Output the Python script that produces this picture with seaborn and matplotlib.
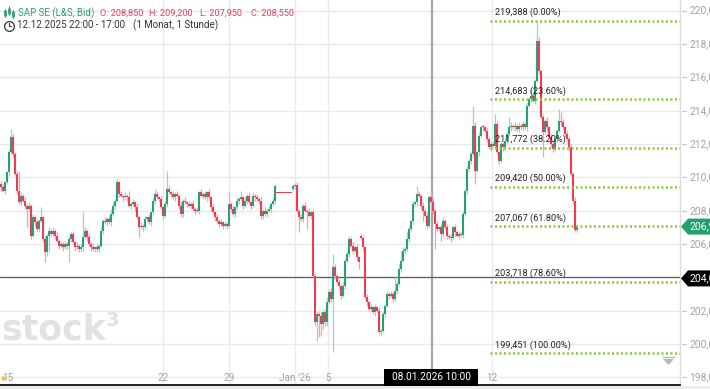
import numpy as np
import pandas as pd
import matplotlib
matplotlib.use("Agg")
import matplotlib.pyplot as plt
import seaborn as sns
from matplotlib.patches import Polygon, Rectangle
from matplotlib.lines import Line2D

# ---------------- data (hourly candles) ----------------
closes = [
    209.4, 209.2, 209.7, 210.3, 211.5, 212.4, 211.4, 210.2, 209.2, 208.5,
    208.9, 208.6, 208.3, 208.1, 208.3, 206.5, 207.6, 207.3, 206.9, 207.4,
    207.6, 206.3, 205.5, 206.5, 206.8, 206.6, 206.8, 206.5, 206.2, 205.9,
    206.0, 205.8, 206.0, 205.9, 206.3, 206.6, 206.1, 205.8, 205.9, 205.7,
    205.8, 206.4, 206.8, 206.4, 206.0, 205.8, 205.7, 205.8, 205.7, 205.9,
    206.8, 207.4, 207.3, 207.5, 207.3, 207.8, 208.3, 208.6, 209.7, 209.0,
    208.9, 208.8, 208.9, 208.8, 208.3, 208.4, 208.5, 208.2, 207.6, 207.0,
    207.1, 207.0, 207.5, 207.6, 207.3, 207.9, 208.6, 209.0, 208.8, 208.7,
    208.2, 207.7, 208.4, 209.3, 209.1, 209.0, 208.8, 209.0, 208.9, 208.3,
    207.8, 208.6, 208.5, 208.4, 208.3, 208.4, 208.1, 208.0, 208.0, 209.1,
    208.9, 209.0, 208.8, 209.1, 208.8, 208.2, 207.9, 207.6, 207.4, 207.2,
    207.3, 207.1, 207.2, 207.1, 208.4, 208.1, 207.8, 208.2, 208.6, 208.7,
    208.8, 208.3, 208.6, 208.9, 208.5, 208.3, 208.9, 208.8, 208.7, 208.6,
    207.7, 208.0, 207.8, 208.0, 208.1, 208.4, 208.6, 209.5, 209.05, 209.05,
    209.05, 209.05, 209.05, 209.05, 209.05, 209.05, 209.5, 209.55, 208.0, 207.6,
    207.5, 208.3, 208.0, 207.9, 207.7, 207.9, 204.1, 201.3, 201.8, 201.7,
    201.2, 201.9, 201.3, 202.5, 203.1, 202.7, 204.6, 204.1, 203.7, 203.5,
    202.9, 203.5, 205.0, 205.4, 206.3, 205.9, 205.6, 205.8, 205.2, 204.9,
    206.35, 205.8, 202.8, 202.5, 202.1, 202.2, 201.9, 202.2, 202.0, 200.7,
    200.8, 201.8, 202.3, 203.0, 202.9, 203.0, 202.7, 203.2, 203.6, 204.5,
    205.0, 205.6, 205.7, 206.3, 206.9, 207.4, 208.4, 208.5, 209.0, 208.9,
    208.3, 208.0, 207.7, 207.1, 208.85, 208.55, 208.0, 207.2, 206.9, 207.0,
    206.6, 207.4, 207.0, 206.5, 206.4, 206.35, 207.0, 206.7, 206.5, 206.6,
    206.55, 207.8, 209.2, 210.5, 211.0, 211.4, 213.1, 210.4, 211.5, 212.5,
    213.0, 213.0, 212.8, 212.3, 211.8, 212.0, 211.9, 213.2, 211.5, 211.0,
    212.0, 211.8, 212.2, 212.6, 213.0, 213.1, 213.0, 213.1, 212.9, 213.1,
    213.0, 213.2, 213.0, 214.3, 214.7, 214.9, 214.6, 215.8, 218.2, 216.4,
    213.6, 212.7, 213.4, 213.0, 212.4, 212.0, 211.7, 212.3, 212.8, 213.4,
    213.3, 213.0, 212.6, 212.3, 211.8, 210.2, 208.6, 206.85, 207.0,
]
# wick lengths above / below the body, in tenths of a euro
wick_up = [
    2, 2, 1, 1, 2, 5, 2, 1, 2, 11, 2, 1, 2, 1, 2, 1, 2, 1, 2, 1,
    6, 1, 2, 1, 2, 1, 2, 1, 2, 1, 2, 1, 2, 1, 2, 1, 2, 1, 2, 1,
    2, 15, 2, 1, 2, 1, 2, 1, 2, 1, 2, 1, 2, 1, 2, 3, 2, 1, 2, 1,
    2, 1, 2, 1, 4, 1, 2, 1, 2, 1, 2, 1, 2, 1, 2, 1, 2, 3, 2, 1,
    2, 1, 2, 11, 2, 1, 2, 1, 2, 1, 2, 1, 2, 1, 2, 1, 2, 1, 2, 1,
    2, 1, 2, 1, 2, 1, 2, 1, 2, 1, 2, 1, 2, 1, 7, 1, 2, 1, 2, 1,
    4, 1, 2, 1, 2, 1, 2, 1, 2, 1, 2, 1, 2, 1, 2, 1, 2, 1, 0, 0,
    0, 0, 0, 0, 0, 0, 1, 1, 2, 1, 2, 1, 2, 1, 2, 1, 2, 1, 2, 1,
    2, 1, 2, 3, 2, 3, 8, 2, 1, 2, 1, 2, 1, 2, 2, 1, 2, 1, 2, 1,
    1, 2, 1, 2, 1, 2, 1, 2, 1, 2, 1, 2, 1, 2, 1, 2, 1, 8, 2, 3,
    6, 2, 1, 5, 2, 1, 2, 1, 5, 2, 1, 2, 1, 2, 1, 4, 2, 1, 2, 1,
    2, 2, 1, 2, 1, 2, 1, 2, 1, 2, 1, 2, 1, 2, 1, 2, 12, 2, 1, 2,
    1, 2, 1, 2, 1, 2, 1, 6, 2, 1, 2, 1, 2, 1, 6, 2, 1, 2, 1, 2,
    1, 2, 1, 2, 1, 4, 2, 1, 12, 2, 1, 2, 1, 2, 1, 2, 1, 2, 1, 7,
    5, 2, 1, 2, 1, 2, 1, 2, 1,
]
wick_dn = [
    2, 1, 2, 1, 2, 1, 2, 1, 2, 1, 2, 1, 2, 11, 1, 2, 1, 2, 1, 2,
    1, 2, 6, 2, 10, 2, 1, 2, 1, 2, 1, 2, 1, 2, 10, 2, 1, 2, 1, 2,
    1, 2, 1, 2, 1, 2, 1, 2, 1, 2, 1, 2, 1, 2, 1, 2, 1, 2, 1, 2,
    1, 2, 1, 2, 1, 2, 1, 2, 1, 6, 1, 2, 1, 2, 1, 2, 1, 2, 1, 2,
    1, 2, 1, 2, 1, 2, 1, 2, 1, 2, 2, 2, 1, 2, 1, 2, 1, 2, 1, 2,
    1, 2, 1, 2, 1, 2, 1, 2, 2, 2, 1, 2, 1, 2, 1, 2, 1, 2, 1, 2,
    1, 2, 1, 2, 1, 2, 1, 2, 1, 2, 2, 2, 1, 2, 1, 2, 1, 2, 0, 0,
    0, 0, 0, 0, 0, 0, 1, 2, 1, 9, 1, 2, 1, 10, 1, 2, 1, 2, 11, 13,
    7, 3, 2, 2, 1, 2, 32, 2, 1, 2, 2, 1, 2, 1, 2, 1, 2, 1, 2, 4,
    1, 2, 1, 2, 1, 2, 1, 2, 1, 1, 2, 1, 2, 1, 2, 1, 2, 1, 2, 1,
    2, 1, 2, 1, 2, 1, 2, 1, 2, 1, 2, 6, 1, 2, 1, 6, 2, 15, 2, 1,
    4, 2, 1, 2, 1, 2, 1, 2, 1, 2, 1, 2, 1, 2, 1, 2, 1, 8, 1, 2,
    1, 2, 1, 2, 1, 2, 1, 2, 1, 2, 1, 2, 1, 2, 1, 2, 1, 2, 1, 2,
    1, 2, 1, 2, 1, 2, 1, 2, 1, 2, 1, 15, 1, 2, 1, 2, 2, 1, 2, 1,
    2, 1, 2, 1, 2, 1, 2, 1, 1,
]
# candles whose open does not equal the previous close
gap_opens = {0: 209.6, 138: 209.05, 146: 209.3, 180: 206.5}
hover_index = 215
hover_ohlc = (208.850, 209.200, 207.950, 208.550)

fib_levels = [219.388, 214.683, 211.772, 209.420, 207.067, 203.718, 199.451]
fib_labels = ["219,388 (0.00%)", "214,683 (23.60%)", "211,772 (38.20%)",
              "209,420 (50.00%)", "207,067 (61.80%)", "203,718 (78.60%)",
              "199,451 (100.00%)"]
fib_start = 244.5

y_ticks = [198, 200, 202, 204, 206, 208, 210, 212, 214, 216, 218, 220]
x_tick_pos = [3.5, 81, 114, 147, 163.5, 245.5]
x_tick_labels = ["15", "22", "29", "Jan '26", "5", "12"]
x_grid_pos = [81, 114, 147, 163.5, 245.5]

crosshair_price = 204.03
last_label_price = 207.05

# ---------------- build OHLC table ----------------
opens = []
for i, c in enumerate(closes):
    opens.append(gap_opens.get(i, closes[i - 1] if i > 0 else c))
df = pd.DataFrame({"idx": np.arange(len(closes)), "open": opens, "close": closes})
df["high"] = df[["open", "close"]].max(axis=1) + np.array(wick_up) / 10
df["low"] = df[["open", "close"]].min(axis=1) - np.array(wick_dn) / 10
df.loc[hover_index, ["open", "high", "low", "close"]] = hover_ohlc
df["up"] = df["close"] > df["open"]

# ---------------- style ----------------
sns.set_theme(style="white")
plt.rcParams["font.family"] = ["Roboto", "DejaVu Sans"]

GREEN = "#26a172"
RED = "#f23a52"
GREEN_W = "#9fd3bf"
RED_W = "#f6a1ad"
FIB = "#8cc63f"
GRID = "#e9e9ee"
TICK = "#a3a3a3"

W, H = 710, 389
fig = plt.figure(figsize=(W / 100, H / 100), dpi=100, facecolor="white")
ax = fig.add_axes([0, 4 / H, 680 / W, 385 / H])
ax.set_facecolor("white")

def P(px, py):
    return (px / W, 1 - py / H)

def ypix(price):
    return 10.7 + (220 - price) * 16.67

ax.set_xlim(-0.5, 339.5)
ax.set_ylim(197.547, 220.642)

# grid
for yv in y_ticks:
    ax.axhline(yv, color=GRID, lw=1.0, zorder=0)
for xv in x_grid_pos:
    ax.axvline(xv, color=GRID, lw=1.0, zorder=0)

# crosshair
ax.axvline(215.5, color="#a6a6a6", lw=1.6, zorder=1)
ax.axhline(crosshair_price, color="#5c5c5c", lw=0.9, zorder=1)

# wicks
wcol = np.where(df["up"], GREEN_W, RED_W)
ax.vlines(df["idx"], df["low"], df["high"], colors=wcol, lw=0.9, zorder=2)

# bodies
bottoms = df[["open", "close"]].min(axis=1)
heights = (df["close"] - df["open"]).abs().clip(lower=0.055)
bcol = np.where(df["up"], GREEN, RED)
ax.bar(df["idx"], heights, bottom=bottoms, width=0.85, color=bcol,
       linewidth=0, zorder=3)

# fibonacci levels
for lv, lab in zip(fib_levels, fib_labels):
    ax.hlines(lv, fib_start, 339.5, colors=FIB, lw=1.8,
              linestyles=(0, (0.8, 1.0)), zorder=4)
    ax.text(fib_start + 2.5, lv + 0.22, lab, fontsize=6.6, color="#222222",
            ha="left", va="bottom", zorder=5)

sns.despine(ax=ax, left=True, top=True, right=False, bottom=False)
ax.spines["right"].set_color("#dcdcdc")
ax.spines["right"].set_linewidth(1.0)
ax.spines["bottom"].set_color("#111111")
ax.spines["bottom"].set_linewidth(1.3)
ax.set_xticks([])
ax.set_yticks([])

# y tick labels on the right (clipped by the figure edge)
for yv in y_ticks:
    py = ypix(yv)
    fig.add_artist(Line2D([682 / W, 686 / W], [1 - py / H] * 2, color="#c8c8c8", lw=0.9))
    if abs(py - (ypix(crosshair_price) + 1.5)) < 9:
        continue
    fig.text(*P(689, py), f"{yv},000", fontsize=7.4, color=TICK, ha="left", va="center")

# x tick labels
for xv, lab in zip(x_tick_pos, x_tick_labels):
    px = 2 * xv + 1
    fig.text(*P(px, 378), lab, fontsize=7.2, color=TICK, ha="center", va="center")
fig.add_artist(Line2D([2.5 / W], [1 - 378 / H], marker="o", markersize=2.2,
                      color="#f4c542", lw=0))

# crosshair date label
fig.add_artist(Rectangle(P(384, 386), 94 / W, 17 / H, facecolor="#000000",
                         edgecolor="none", zorder=10))
fig.text(*P(431, 377.5), "08.01.2026 10:00", fontsize=7.3, color="white",
         ha="center", va="center", zorder=11)

# price labels on the right axis
def price_tag(py, color, text):
    pts = [(681, py), (688, py - 8), (712, py - 8), (712, py + 8), (688, py + 8)]
    fig.add_artist(Polygon([P(x, y) for x, y in pts], closed=True,
                           facecolor=color, edgecolor="none", zorder=10))
    fig.text(*P(690, py), text, fontsize=7.6, color="white", ha="left",
             va="center", zorder=11)

price_tag(ypix(last_label_price), "#23a06e", "206,950")
price_tag(ypix(crosshair_price) + 1.5, "#000000", "204,030")

# scroll marker bottom right
fig.add_artist(Polygon([P(663, 359), P(674, 359), P(668.5, 365)], closed=True,
                       facecolor="#b8b8b8", edgecolor="none"))
fig.add_artist(Line2D([663 / W, 674 / W], [1 - 357 / H] * 2, color="#b8b8b8", lw=1.0))

# watermark
fig.text(*P(1, 330), "stock", fontsize=25, color="#e2e2e2", ha="left",
         va="center", fontweight="bold", family=["DejaVu Sans"])
fig.text(*P(106, 320), "3", fontsize=14, color="#e2e2e2", ha="left",
         va="center", fontweight="bold", family=["DejaVu Sans"])

# header: candle icon
for cx, y0, y1, b0, b1 in [(5, 17, 9, 15, 11), (9, 15, 6, 13, 9), (13, 18, 10, 16, 12)]:
    fig.add_artist(Line2D([cx / W] * 2, [1 - y0 / H, 1 - y1 / H], color=GREEN, lw=0.7))
    fig.add_artist(Line2D([cx / W] * 2, [1 - b0 / H, 1 - b1 / H], color=GREEN, lw=2.0))
fig.text(*P(18, 13), "SAP SE (L&S, Bid)", fontsize=7.0, color=GREEN,
         ha="left", va="center")
o, h, l, c = hover_ohlc
ohlc_items = [f"O: {o:.3f}", f"H: {h:.3f}", f"L: {l:.3f}", f"C: {c:.3f}"]
ohlc_x = [100, 149, 200, 251]
for txt, px in zip(ohlc_items, ohlc_x):
    fig.text(*P(px, 13), txt.replace(".", ","), fontsize=6.6, color=RED,
             ha="left", va="center")

# header: clock icon + period
fig.add_artist(Line2D([8.5 / W], [1 - 25.5 / H], marker="o", markersize=7,
                      mfc="none", mec="#333333", mew=0.9, lw=0))
fig.add_artist(Line2D([8.5 / W, 8.5 / W, 11 / W], [1 - 22.5 / H, 1 - 25.5 / H, 1 - 25.5 / H],
                      color="#333333", lw=0.8))
fig.text(*P(17, 25.5), "12.12.2025 22:00 - 17:00", fontsize=7.0, color="#333333",
         ha="left", va="center")
fig.text(*P(133, 25.5), "(1 Monat, 1 Stunde)", fontsize=7.0, color="#333333",
         ha="left", va="center")

# thin grey strip under the chart
fig.add_artist(Rectangle((0, 0), 1, 3 / H, facecolor="#eeeeee", edgecolor="none"))

fig.savefig("out.png", dpi=100, facecolor="white")
